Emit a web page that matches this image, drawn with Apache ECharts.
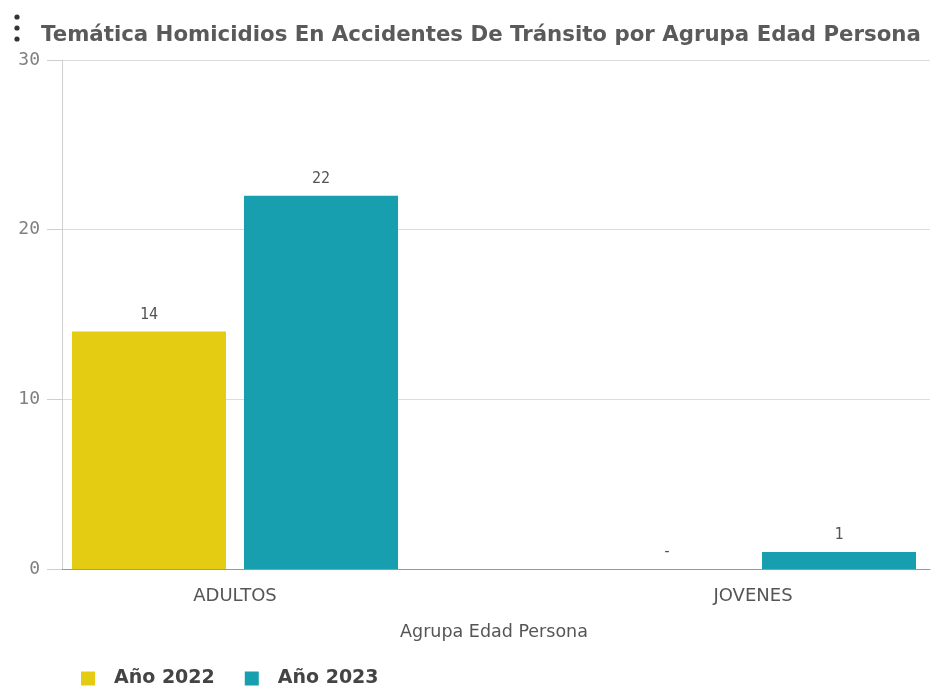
<!DOCTYPE html>
<html>
<head>
<meta charset="utf-8">
<script src="https://cdn.jsdelivr.net/npm/echarts@6/dist/echarts.min.js"></script>
<style>html,body{margin:0;padding:0;background:#fff}#c{width:950px;height:698px}</style>
</head>
<body>
<div id="c"></div>
<script>
var categories = ['ADULTOS', 'JOVENES'];
var seriesNames = ['Año 2022', 'Año 2023'];
var values2022 = [14, 0];
var values2023 = [22, 1];
var yTicks = [0, 10, 20, 30];
var titleText = 'Temática Homicidios En Accidentes De Tránsito por Agrupa Edad Persona';
var xAxisName = 'Agrupa Edad Persona';

var colors = ['#E3CC12', '#179FAF'];
var chart = echarts.init(document.getElementById('c'), null, {renderer: 'canvas'});
var labelStyle = {
  show: true, position: 'top', distance: 9,
  fontFamily: 'DejaVu Sans Mono', fontSize: 15, color: '#555',
  formatter: function (p) { return p.value === 0 ? '-' : String(p.value); }
};
chart.setOption({
  animation: false,
  color: colors,
  title: {
    text: titleText, left: 36, top: 20,
    textStyle: {fontFamily: 'DejaVu Sans', fontWeight: 'bold', fontSize: 21.3, color: '#5a5a5a'}
  },
  graphic: [
    {type: 'circle', shape: {cx: 17, cy: 17, r: 2.6}, style: {fill: '#333'}},
    {type: 'circle', shape: {cx: 17, cy: 28, r: 2.6}, style: {fill: '#333'}},
    {type: 'circle', shape: {cx: 17, cy: 39, r: 2.6}, style: {fill: '#333'}}
  ],
  legend: {
    left: 76, top: 664, itemWidth: 14, itemHeight: 14, itemGap: 30,
    icon: 'rect',
    textStyle: {fontFamily: 'DejaVu Sans', fontWeight: 'bold', fontSize: 19, color: '#444', padding: [0, 0, 0, 14]},
    data: seriesNames
  },
  grid: [
    {left: -24, width: 1036, top: 60, bottom: 129, containLabel: false, outerBoundsMode: 'none'},
    {left: 62, right: 20, top: 60, bottom: 129, containLabel: false, outerBoundsMode: 'none'}
  ],
  xAxis: [
    {
      type: 'category', gridIndex: 0, data: categories,
      axisLine: {show: false}, axisTick: {show: false},
      axisLabel: {margin: 18, fontFamily: 'DejaVu Sans', fontSize: 18, color: '#555'},
      name: xAxisName, nameLocation: 'middle', nameGap: 54,
      nameTextStyle: {fontFamily: 'DejaVu Sans', fontSize: 17.5, color: '#555'}
    },
    {
      type: 'category', gridIndex: 1, data: categories,
      axisLine: {show: true, lineStyle: {color: '#999', width: 1}},
      axisTick: {show: false}, axisLabel: {show: false}
    }
  ],
  yAxis: [
    {type: 'value', gridIndex: 0, min: 0, max: 30, interval: 10, show: false},
    {
      type: 'value', gridIndex: 1, min: 0, max: 30, interval: 10,
      axisLine: {show: true, lineStyle: {color: '#cfcfcf'}},
      axisTick: {show: true, length: 15, lineStyle: {color: '#cfcfcf'}},
      axisLabel: {margin: 22, fontFamily: 'DejaVu Sans Mono', fontSize: 18, color: '#808080',
        formatter: function (v) { return yTicks.indexOf(v) >= 0 ? String(v) : ''; }},
      splitLine: {show: true, lineStyle: {color: '#dcdcdc'}}
    }
  ],
  series: [
    {name: seriesNames[0], type: 'bar', xAxisIndex: 0, yAxisIndex: 0, data: values2022,
      barWidth: 154, barGap: '11.7%', label: labelStyle, z: 3},
    {name: seriesNames[1], type: 'bar', xAxisIndex: 0, yAxisIndex: 0, data: values2023,
      barWidth: 154, barGap: '11.7%', label: labelStyle, z: 3}
  ]
});
</script>
</body>
</html>
